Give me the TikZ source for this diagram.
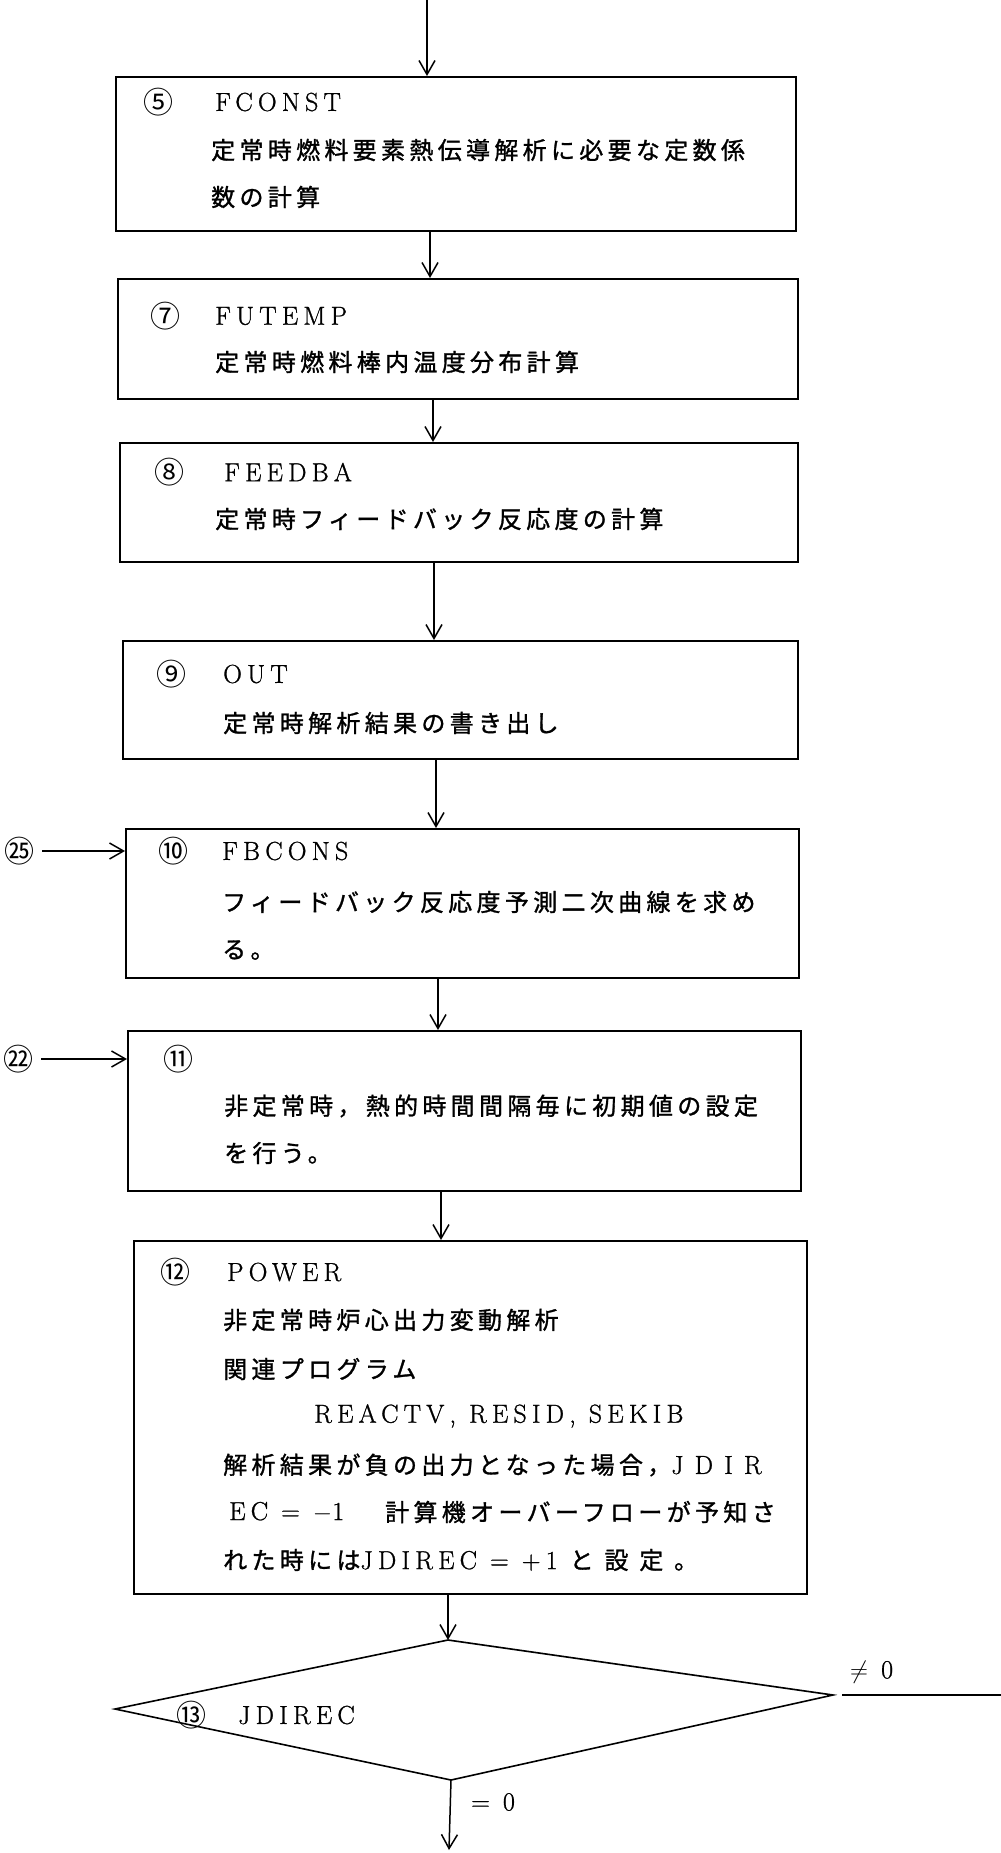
\documentclass[tikz,border=0pt]{standalone}
\usepackage{fontspec}
\setmainfont{Latin Modern Roman}
\newfontfamily\jp{Noto Sans CJK JP}[LetterSpace=18,FakeBold=1.2]
\newfontfamily\jpnum{Noto Sans CJK JP}
\newfontfamily\lat{Latin Modern Roman}[LetterSpace=20,FakeBold=1]
\newfontfamily\latwide{Latin Modern Roman}[LetterSpace=43,FakeBold=1]
\newfontfamily\jpwide{Noto Sans CJK JP}[LetterSpace=45,FakeBold=1.2]
\usetikzlibrary{arrows.meta}
\newcommand\jpsize{\fontsize{24}{28}\selectfont}
\newcommand\latsize{\fontsize{26}{30}\selectfont}
\newcommand\latx[1]{{\lat\latsize #1}}
\newcommand\latw[1]{{\latwide\latsize #1}}
\newcommand\jpw[1]{{\jpwide\jpsize #1}}
\begin{document}
\begin{tikzpicture}[x=1pt,y=-1pt,
  line/.style={line width=1.6pt},
  arr/.style={line width=1.5pt,-{Straight Barb[length=14pt,width=16pt,line width=1.5pt]}},
  box/.style={draw,line width=1.8pt,anchor=north west,inner sep=0pt,rectangle},
  jt/.style={anchor=west,inner sep=0pt,font=\jp\jpsize},
  lt/.style={anchor=west,inner sep=0pt,font=\lat\latsize},
  num/.style={inner sep=0pt,font=\jpnum\fontsize{30}{32}\selectfont},
]
\fill[white] (0,0) rectangle (1001,1853);
\useasboundingbox (0,0) rectangle (1001,1853);

% boxes
\node[box,minimum width=680pt,minimum height=154pt] (b5) at (115,76) {};
\node[box,minimum width=680pt,minimum height=120pt] (b7) at (117,278) {};
\node[box,minimum width=678pt,minimum height=119pt] (b8) at (119,442) {};
\node[box,minimum width=675pt,minimum height=118pt] (b9) at (122,640) {};
\node[box,minimum width=673pt,minimum height=149pt] (b10) at (125,828) {};
\node[box,minimum width=673pt,minimum height=160pt] (b11) at (127,1030) {};
\node[box,minimum width=673pt,minimum height=353pt] (b12) at (133,1240) {};

% diamond
\coordinate (dT) at (448,1640);
\coordinate (dL) at (115,1709);
\coordinate (dR) at (833,1695);
\coordinate (dB) at (451,1780);
\draw[line] (dT) -- (dR) -- (dB) -- (dL) -- cycle;

% texts box 5
\node[num] (n5) at (158,102) {⑤};
\node[lt] (t5a) at (215,102) {FCONST};
\node[jt] (t5b) at (211,150) {定常時燃料要素熱伝導解析に必要な定数係};
\node[jt] (t5c) at (211,197) {数の計算};
% box 7
\node[num] (n7) at (165,316) {⑦};
\node[lt] (t7a) at (215,316) {FUTEMP};
\node[jt] (t7b) at (215,362) {定常時燃料棒内温度分布計算};
% box 8
\node[num] (n8) at (169,472) {⑧};
\node[lt] (t8a) at (224,472) {FEEDBA};
\node[jt] (t8b) at (215,519) {定常時フィードバック反応度の計算};
% box 9
\node[num] (n9) at (171,674) {⑨};
\node[lt] (t9a) at (223,674) {OUT};
\node[jt] (t9b) at (223,723) {定常時解析結果の書き出し};
% box 10
\node[num] (n10) at (173,851) {⑩};
\node[lt] (t10a) at (222,851) {FBCONS};
\node[jt] (t10b) at (222,902) {フィードバック反応度予測二次曲線を求め};
\node[jt] (t10c) at (222,950) {る。};
% box 11
\node[num] (n11) at (178,1059) {⑪};
\node[jt] (t11b) at (224,1106) {非定常時，熱的時間間隔毎に初期値の設定};
\node[jt] (t11c) at (224,1153) {を行う。};
% box 12
\node[num] (n12) at (175,1272) {⑫};
\node[lt] (t12a) at (227,1272) {POWER};
\node[jt] (t12b) at (223,1320) {非定常時炉心出力変動解析};
\node[jt] (t12c) at (223,1369) {関連プログラム};
\node[lt] (t12d) at (314,1416) {REACTV, RESID, SEKIB};
\node[jt] (t12e) at (223,1465) {解析結果が負の出力となった場合，\latw{JDIR}};
\node[lt] (t12f) at (229,1512) {EC = $-$1};
\node[jt] (t12g) at (385,1512) {計算機オーバーフローが予知さ};
\node[jt] (t12h) at (223,1560) {れた時には\latx{JDIREC = +1}\hspace{12pt}\jpw{と設定。}};
% diamond text
\node[num] (n13) at (191,1715) {⑬};
\node[lt] (t13) at (238,1715) {JDIREC};
\node[lt] (lne) at (850,1672) {$\neq$ 0};
\node[lt] (leq) at (471,1802) {= 0};

% side entries
\node[num] (c25) at (20,851) {㉕};
\node[num] (c22) at (19,1059) {㉒};
\draw[arr] (c25.east) ++(7,0) -- (b10.west |- c25);
\draw[arr] (c22.east) ++(7,0) -- (b11.west |- c22);

% flow arrows
\coordinate (x0) at (427,0);
\coordinate (x57) at (430,0);
\coordinate (x78) at (433,0);
\coordinate (x89) at (434,0);
\coordinate (x910) at (436,0);
\coordinate (x1011) at (438,0);
\coordinate (x1112) at (441,0);
\draw[arr] (x0) -- (b5.north -| x0);
\draw[arr] (b5.south -| x57) -- (b7.north -| x57);
\draw[arr] (b7.south -| x78) -- (b8.north -| x78);
\draw[arr] (b8.south -| x89) -- (b9.north -| x89);
\draw[arr] (b9.south -| x910) -- (b10.north -| x910);
\draw[arr] (b10.south -| x1011) -- (b11.north -| x1011);
\draw[arr] (b11.south -| x1112) -- (b12.north -| x1112);
\draw[arr] (b12.south -| dT) -- (dT);
\coordinate (endB) at (449,1850);
\draw[arr] (dB) -- (endB);
\coordinate (exitR) at (1001,1695);
\draw[line] ([xshift=9pt]dR) -- (exitR);
\end{tikzpicture}
\end{document}
